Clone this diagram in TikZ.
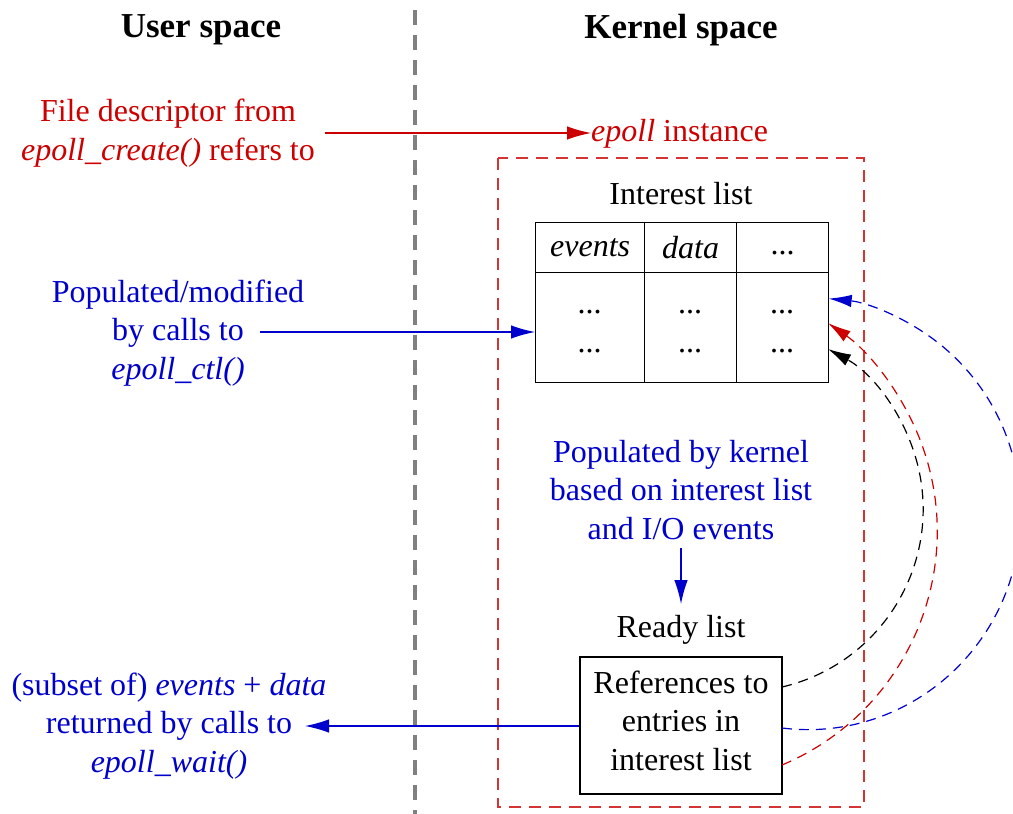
\documentclass[tikz,border=0pt]{standalone}
\usepackage{fontspec}
\setmainfont{Liberation Serif}
\usetikzlibrary{arrows.meta}
\definecolor{myred}{RGB}{204,0,0}
\definecolor{myblue}{RGB}{0,0,204}
\definecolor{mygray}{RGB}{128,128,128}
\begin{document}
\begin{tikzpicture}[x=1pt,y=-1pt,
  txt/.style={font=\fontsize{32}{38.4}\selectfont, align=center, inner sep=0pt},
  hdr/.style={font=\fontsize{35}{42}\selectfont\bfseries, inner sep=0pt},
  arr/.style={-{Latex[length=24pt,width=13.5pt]}, line width=1.3pt},
  carr/.style={-{Latex[length=23pt,width=12.5pt]}, line width=1.2pt, dash pattern=on 10pt off 7pt},
  cell/.style={draw, line width=1.3pt, inner sep=0pt, anchor=north west,
    font=\fontsize{32}{38.4}\selectfont},
  box/.style={draw, line width=1.3pt, inner sep=0pt, align=center,
    font=\fontsize{32}{38.4}\selectfont}]
\useasboundingbox (0,0) rectangle (1013,814);
% separator
\coordinate (septop) at (415,10);
\coordinate (sepbot) at (415,814);
\draw[mygray, line width=3.5pt, dash pattern=on 15pt off 10pt] (septop) -- (sepbot);
% headers
\node[hdr] (us) at (201,30) {User space};
\node[hdr] (ks) at (681,30) {Kernel space};
% epoll instance
\node[txt, text=myred] (fd) at (168,133) {File descriptor from\\\textit{epoll\_create()} refers to};
\node[txt, text=myred, anchor=west] (inst) at (591,134) {\textit{epoll} instance};
\coordinate (fdout) at (325,133);
\draw[arr, myred] (fdout) -- (inst.west |- fdout);
\draw[myred!80, line width=1.4pt, dash pattern=on 12pt off 8pt] (498,158) rectangle (864,807);
% interest list
\node[txt] (il) at (681,194) {Interest list};
\node[cell, minimum width=109pt, minimum height=50pt] (h1) at (535,222) {\textit{events}};
\node[cell, minimum width=92pt, minimum height=50pt] (h2) at (644,222) {\textit{data}};
\node[cell, minimum width=92pt, minimum height=50pt] (h3) at (736,222) {\vphantom{a}...};
\node[cell, minimum width=109pt, minimum height=110pt] (b1) at (535,272) {};
\node[cell, minimum width=92pt, minimum height=110pt] (b2) at (644,272) {};
\node[cell, minimum width=92pt, minimum height=110pt] (b3) at (736,272) {};
\foreach \c/\x in {1/589.5,2/690,3/782}{
  \node[txt] (d\c a) at (\x,312) {...};
  \node[txt] (d\c b) at (\x,351) {...};
}
% epoll_ctl
\node[txt, text=myblue] (ctl) at (178,333) {Populated/modified\\by calls to\\\textit{epoll\_ctl()}};
\coordinate (ctlout) at (260,332);
\draw[arr, myblue] (ctlout) -- (b1.west |- ctlout);
% kernel populates
\node[txt, text=myblue] (kern) at (681,490) {Populated by kernel\\based on interest list\\and I/O events};
\node[txt] (rl) at (681,630) {Ready list};
\coordinate (kd) at (681,548);
\coordinate (ku) at (681,604);
\draw[arr, myblue] (kd) -- (ku);
% ready list box
\node[box, minimum width=202pt, minimum height=137pt] (rb) at (681,725.5)
  {References to\\entries in\\interest list\rule[-10pt]{0pt}{10pt}};
% epoll_wait
\node[txt, text=myblue] (wait) at (169,726) {(subset of) \textit{events} + \textit{data}\\returned by calls to\\\textit{epoll\_wait()}};
\coordinate (waitin) at (305,726);
\draw[arr, myblue] (rb.west |- waitin) -- (waitin);
% curved connectors
\coordinate (cs1) at (782,687);
\coordinate (cs2) at (782,728);
\coordinate (cs3) at (782,765);
\draw[carr, black] (cs1) arc[start angle=76.9, end angle=-61.4, radius=182.5];
\draw[carr, myred] (cs3) arc[start angle=67.2, end angle=-55.3, radius=253.4];
\draw[carr, myblue] (cs2) arc[start angle=97, end angle=-84.4, x radius=212.7, y radius=216];
\end{tikzpicture}
\end{document}
